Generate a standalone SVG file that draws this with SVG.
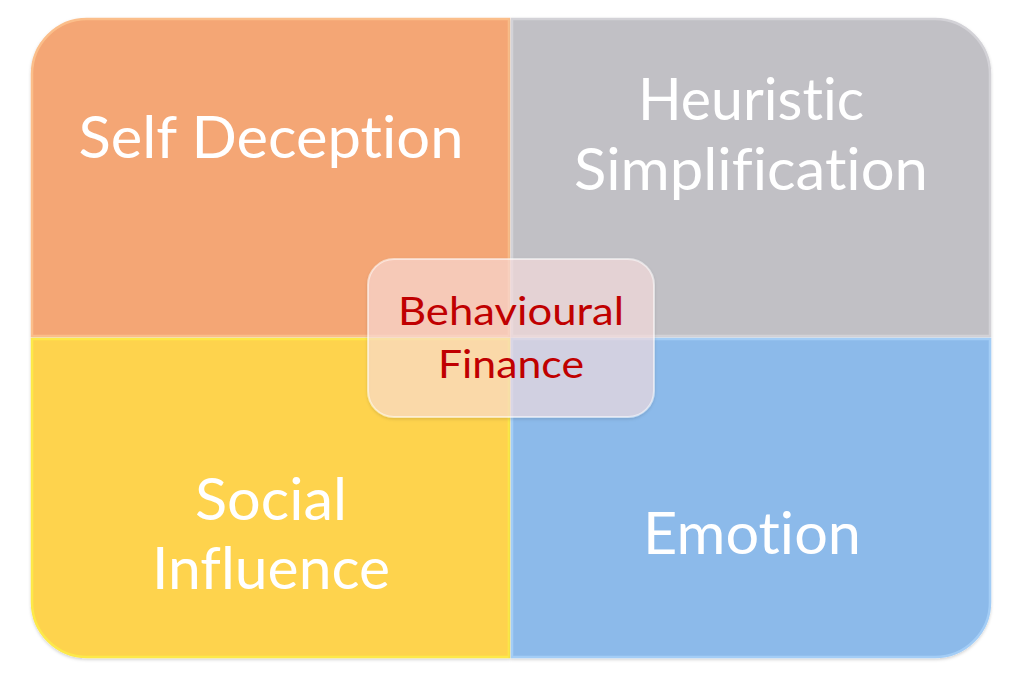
<svg xmlns="http://www.w3.org/2000/svg" width="1020" height="681" viewBox="0 0 1020 681">
  <defs>
    <style>
      .q { stroke-width: 2.5; }
      .lbl { font-family: Lato, "Open Sans", "Liberation Sans", sans-serif; font-size: 58px; fill: #ffffff; text-anchor: middle; font-variant-ligatures: none; font-feature-settings: "liga" 0, "clig" 0, "dlig" 0; }
      .ctr { font-family: Lato, "Open Sans", "Liberation Sans", sans-serif; font-size: 39px; fill: #c00000; text-anchor: middle; font-variant-ligatures: none; font-feature-settings: "liga" 0, "clig" 0, "dlig" 0; }
    </style>
    <filter id="sh" x="-10%" y="-10%" width="120%" height="130%">
      <feDropShadow dx="0" dy="1.5" stdDeviation="1.5" flood-color="#000000" flood-opacity="0.18"/>
    </filter>
  </defs>
  <rect width="1020" height="681" fill="#ffffff"/>

  <g id="self-deception">
    <path class="q" d="M32,74 A55,55 0 0 1 87,19 L509,19 L509,336 L32,336 Z" fill="#f4a674" stroke="#fbbe8a" filter="url(#sh)"/>
    <text class="lbl" x="271" y="158" textLength="385" lengthAdjust="spacingAndGlyphs">Self Deception</text>
  </g>

  <g id="heuristic-simplification">
    <path class="q" d="M512,19 L935,19 A55,55 0 0 1 990,74 L990,336 L512,336 Z" fill="#c1c0c5" stroke="#d3d2d7" filter="url(#sh)"/>
    <text class="lbl" x="751" y="120" textLength="226" lengthAdjust="spacingAndGlyphs">Heuristic</text>
    <text class="lbl" x="751" y="190" textLength="354" lengthAdjust="spacingAndGlyphs">Simplification</text>
  </g>

  <g id="social-influence">
    <path class="q" d="M32,339 L509,339 L509,657 L87,657 A55,55 0 0 1 32,602 Z" fill="#fed34e" stroke="#fde94a" filter="url(#sh)"/>
    <text class="lbl" x="271" y="520" textLength="152" lengthAdjust="spacingAndGlyphs">Social</text>
    <text class="lbl" x="271" y="589" textLength="238" lengthAdjust="spacingAndGlyphs">Influence</text>
  </g>

  <g id="emotion">
    <path class="q" d="M512,339 L990,339 L990,602 A55,55 0 0 1 935,657 L512,657 Z" fill="#8cbaea" stroke="#a3cdf6" filter="url(#sh)"/>
    <text class="lbl" x="752" y="554" textLength="218" lengthAdjust="spacingAndGlyphs">Emotion</text>
  </g>

  <g id="behavioural-finance">
    <rect x="368" y="259" width="286" height="158" rx="26" ry="26" fill="#ffe2e2" fill-opacity="0.6" stroke="#ffffff" stroke-opacity="0.55" stroke-width="2" filter="url(#sh)"/>
    <text class="ctr" x="511" y="325" textLength="226" lengthAdjust="spacingAndGlyphs">Behavioural</text>
    <text class="ctr" x="511" y="378" textLength="146" lengthAdjust="spacingAndGlyphs">Finance</text>
  </g>
</svg>
